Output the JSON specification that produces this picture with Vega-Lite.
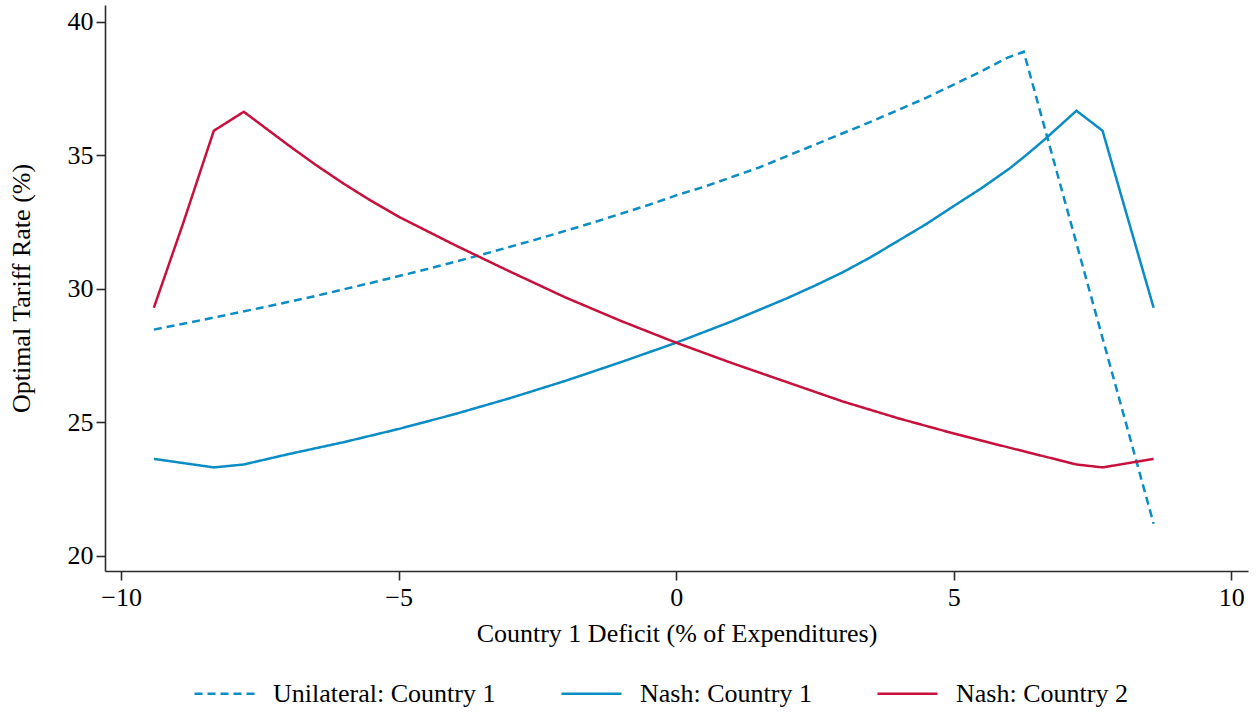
{
  "$schema": "https://vega.github.io/schema/vega-lite/v6.json",
  "width": 1143,
  "height": 566,
  "autosize": {"type": "none"},
  "padding": {"left": 105, "top": 5, "right": 8, "bottom": 141},
  "background": "white",
  "config": {
    "view": {"stroke": null},
    "font": "Liberation Serif",
    "axis": {
      "grid": false,
      "domainColor": "#2b2b2b",
      "domainWidth": 1.6,
      "tickColor": "#2b2b2b",
      "tickWidth": 1.6,
      "tickSize": 9,
      "labelFont": "Liberation Serif",
      "labelFontSize": 26,
      "labelColor": "#000000",
      "titleFont": "Liberation Serif",
      "titleFontSize": 26,
      "titleFontWeight": "normal",
      "titleColor": "#000000"
    }
  },
  "data": {
    "values": [
      {"d": -9.41, "t": 28.47, "s": "Unilateral: Country 1"},
      {"d": -8.5, "t": 28.85, "s": "Unilateral: Country 1"},
      {"d": -7.5, "t": 29.28, "s": "Unilateral: Country 1"},
      {"d": -6.5, "t": 29.73, "s": "Unilateral: Country 1"},
      {"d": -5.5, "t": 30.22, "s": "Unilateral: Country 1"},
      {"d": -4.5, "t": 30.73, "s": "Unilateral: Country 1"},
      {"d": -3.5, "t": 31.28, "s": "Unilateral: Country 1"},
      {"d": -2.5, "t": 31.86, "s": "Unilateral: Country 1"},
      {"d": -1.5, "t": 32.48, "s": "Unilateral: Country 1"},
      {"d": -0.5, "t": 33.14, "s": "Unilateral: Country 1"},
      {"d": 0, "t": 33.5, "s": "Unilateral: Country 1"},
      {"d": 0.5, "t": 33.82, "s": "Unilateral: Country 1"},
      {"d": 1.5, "t": 34.55, "s": "Unilateral: Country 1"},
      {"d": 2.5, "t": 35.4, "s": "Unilateral: Country 1"},
      {"d": 3.5, "t": 36.25, "s": "Unilateral: Country 1"},
      {"d": 4.5, "t": 37.15, "s": "Unilateral: Country 1"},
      {"d": 5.5, "t": 38.15, "s": "Unilateral: Country 1"},
      {"d": 5.97, "t": 38.66, "s": "Unilateral: Country 1"},
      {"d": 6.26, "t": 38.88, "s": "Unilateral: Country 1"},
      {"d": 8.6, "t": 21.2, "s": "Unilateral: Country 1"},

      {"d": -9.41, "t": 23.63, "s": "Nash: Country 1"},
      {"d": -8.33, "t": 23.31, "s": "Nash: Country 1"},
      {"d": -7.79, "t": 23.42, "s": "Nash: Country 1"},
      {"d": -7.0, "t": 23.8, "s": "Nash: Country 1"},
      {"d": -6.0, "t": 24.25, "s": "Nash: Country 1"},
      {"d": -5.0, "t": 24.75, "s": "Nash: Country 1"},
      {"d": -4.0, "t": 25.3, "s": "Nash: Country 1"},
      {"d": -3.0, "t": 25.9, "s": "Nash: Country 1"},
      {"d": -2.0, "t": 26.55, "s": "Nash: Country 1"},
      {"d": -1.0, "t": 27.25, "s": "Nash: Country 1"},
      {"d": 0, "t": 27.98, "s": "Nash: Country 1"},
      {"d": 1.0, "t": 28.78, "s": "Nash: Country 1"},
      {"d": 2.0, "t": 29.65, "s": "Nash: Country 1"},
      {"d": 2.5, "t": 30.12, "s": "Nash: Country 1"},
      {"d": 3.0, "t": 30.62, "s": "Nash: Country 1"},
      {"d": 3.5, "t": 31.18, "s": "Nash: Country 1"},
      {"d": 4.0, "t": 31.8, "s": "Nash: Country 1"},
      {"d": 4.5, "t": 32.42, "s": "Nash: Country 1"},
      {"d": 5.0, "t": 33.1, "s": "Nash: Country 1"},
      {"d": 5.5, "t": 33.77, "s": "Nash: Country 1"},
      {"d": 6.0, "t": 34.5, "s": "Nash: Country 1"},
      {"d": 6.3, "t": 35.0, "s": "Nash: Country 1"},
      {"d": 6.63, "t": 35.58, "s": "Nash: Country 1"},
      {"d": 7.21, "t": 36.67, "s": "Nash: Country 1"},
      {"d": 7.68, "t": 35.92, "s": "Nash: Country 1"},
      {"d": 8.09, "t": 32.96, "s": "Nash: Country 1"},
      {"d": 8.6, "t": 29.29, "s": "Nash: Country 1"},

      {"d": -9.41, "t": 29.29, "s": "Nash: Country 2"},
      {"d": -8.88, "t": 32.47, "s": "Nash: Country 2"},
      {"d": -8.33, "t": 35.92, "s": "Nash: Country 2"},
      {"d": -7.79, "t": 36.63, "s": "Nash: Country 2"},
      {"d": -7.0, "t": 35.4, "s": "Nash: Country 2"},
      {"d": -6.5, "t": 34.65, "s": "Nash: Country 2"},
      {"d": -6.0, "t": 33.95, "s": "Nash: Country 2"},
      {"d": -5.5, "t": 33.3, "s": "Nash: Country 2"},
      {"d": -5.0, "t": 32.7, "s": "Nash: Country 2"},
      {"d": -4.0, "t": 31.65, "s": "Nash: Country 2"},
      {"d": -3.0, "t": 30.65, "s": "Nash: Country 2"},
      {"d": -2.0, "t": 29.68, "s": "Nash: Country 2"},
      {"d": -1.0, "t": 28.8, "s": "Nash: Country 2"},
      {"d": 0, "t": 27.98, "s": "Nash: Country 2"},
      {"d": 1.0, "t": 27.22, "s": "Nash: Country 2"},
      {"d": 2.0, "t": 26.5, "s": "Nash: Country 2"},
      {"d": 3.0, "t": 25.78, "s": "Nash: Country 2"},
      {"d": 4.0, "t": 25.15, "s": "Nash: Country 2"},
      {"d": 5.0, "t": 24.58, "s": "Nash: Country 2"},
      {"d": 6.0, "t": 24.05, "s": "Nash: Country 2"},
      {"d": 7.21, "t": 23.42, "s": "Nash: Country 2"},
      {"d": 7.68, "t": 23.31, "s": "Nash: Country 2"},
      {"d": 8.6, "t": 23.63, "s": "Nash: Country 2"}
    ]
  },
  "mark": {"type": "line", "strokeWidth": 2.5},
  "encoding": {
    "x": {
      "field": "d",
      "type": "quantitative",
      "scale": {"domain": [-10.29, 10.3], "nice": false, "zero": false},
      "axis": {
        "values": [-10, -5, 0, 5, 10],
        "title": "Country 1 Deficit (% of Expenditures)",
        "labelPadding": 4,
        "titlePadding": 10
      }
    },
    "y": {
      "field": "t",
      "type": "quantitative",
      "scale": {"domain": [19.43, 40.63], "nice": false, "zero": false},
      "axis": {
        "values": [20, 25, 30, 35, 40],
        "title": "Optimal Tariff Rate (%)",
        "labelPadding": 3,
        "titlePadding": 33
      }
    },
    "color": {
      "field": "s",
      "type": "nominal",
      "scale": {
        "domain": ["Unilateral: Country 1", "Nash: Country 1", "Nash: Country 2"],
        "range": ["#0a8cc4", "#0a8cc4", "#c8103c"]
      },
      "legend": {
        "orient": "none",
        "legendX": 88,
        "legendY": 657,
        "direction": "horizontal",
        "title": null,
        "symbolType": "stroke",
        "symbolSize": 3600,
        "symbolStrokeWidth": 2.5,
        "labelFont": "Liberation Serif",
        "labelFontSize": 26,
        "labelColor": "#000000",
        "labelLimit": 500,
        "labelOffset": 17,
        "columnPadding": 60
      }
    },
    "strokeDash": {
      "field": "s",
      "type": "nominal",
      "scale": {
        "domain": ["Unilateral: Country 1", "Nash: Country 1", "Nash: Country 2"],
        "range": [[8, 5], [1, 0], [1, 0]]
      },
      "legend": {
        "orient": "none",
        "legendX": 88,
        "legendY": 657,
        "direction": "horizontal",
        "title": null,
        "symbolType": "stroke",
        "symbolSize": 3600,
        "symbolStrokeWidth": 2.5,
        "labelFont": "Liberation Serif",
        "labelFontSize": 26,
        "labelColor": "#000000",
        "labelLimit": 500,
        "labelOffset": 17,
        "columnPadding": 60
      }
    }
  }
}
